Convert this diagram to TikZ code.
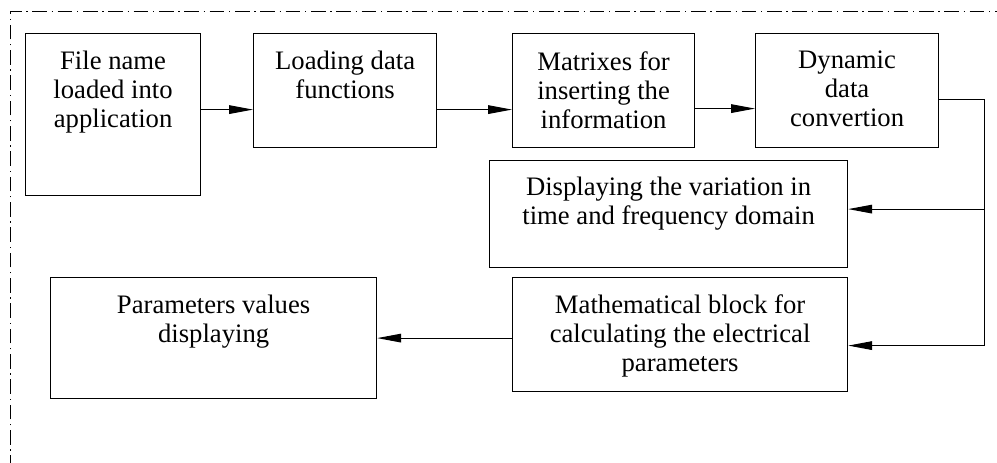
\documentclass[tikz,border=0pt]{standalone}
\usepackage{fontspec}
\setmainfont{Liberation Serif}
\usepackage{tikz}
\usetikzlibrary{arrows.meta,positioning}

\tikzset{
  blk/.style={draw, line width=0.9pt, anchor=north west, inner sep=0pt},
  txt/.style={align=center, inner sep=0pt, font=\fontsize{20}{21.75}\selectfont},
  arr/.style={-{Triangle[length=18pt,width=6.5pt]}, line width=0.75pt},
  link/.style={line width=0.75pt},
  frame/.style={line width=0.6pt, dash pattern=on 11pt off 3.5pt on 1pt off 3.5pt}
}

\begin{document}
\begin{tikzpicture}[x=0.75pt,y=-0.75pt]
		\useasboundingbox (0,0) rectangle (997,463);
		\draw [frame] (10,470) |- (1000,11);
		% boxes
		\node [blk, minimum width=131.25pt, minimum height=121.5pt] (file) at (25,33) {};
		\node [blk, minimum width=137.25pt, minimum height=85.5pt] (loadfn) at (253,33) {};
		\node [blk, minimum width=136.5pt, minimum height=85.5pt] (matrix) at (512,33) {};
		\node [blk, minimum width=137.25pt, minimum height=85.5pt] (conv) at (755,33) {};
		\node [blk, minimum width=268.5pt, minimum height=80.25pt] (variation) at (489,160) {};
		\node [blk, minimum width=251.25pt, minimum height=85.5pt] (math) at (512,277) {};
		\node [blk, minimum width=244.5pt, minimum height=90.75pt] (params) at (50,277) {};
		% texts
		\node [txt, below=13.5pt of file.north] (filetxt) {File name\\loaded into\\application};
		\node [txt, below=13.5pt of loadfn.north] (loadfntxt) {Loading data\\functions};
		\node [txt, below=13.5pt of matrix.north] (matrixtxt) {Matrixes for\\inserting the\\information};
		\node [txt, below=13.5pt of conv.north] (convtxt) {Dynamic\\data\\convertion};
		\node [txt, below=12.5pt of variation.north] (variationtxt) {Displaying the variation in\\time and frequency domain};
		\node [txt, below=13pt of math.north] (mathtxt) {Mathematical block for\\calculating the electrical\\parameters};
		\node [txt, below=13pt of params.north] (paramstxt) {Parameters values\\displaying};
		% connectors
		\coordinate (a1) at ([yshift=3.75pt]file.east);
		\draw [arr] (a1) -- (a1 -| loadfn.west);
		\coordinate (a2) at ([yshift=-14.25pt]loadfn.east);
		\draw [arr] (a2) -- (a2 -| matrix.west);
		\coordinate (a3) at ([yshift=-13.5pt]matrix.east);
		\draw [arr] (a3) -- (a3 -| conv.west);
		\coordinate (c1) at ([yshift=-6.75pt]conv.east);
		\coordinate (turn) at ([xshift=33.75pt]c1);
		\coordinate (b1) at ([yshift=3.75pt]variation.east);
		\coordinate (b2) at ([yshift=-8.25pt]math.east);
		\draw [link] (c1) -- (turn) -- (turn |- b2);
		\draw [arr] (turn |- b1) -- (b1);
		\draw [arr] (turn |- b2) -- (b2);
		\draw [arr] (math.west |- params.east) -- (params.east);
\end{tikzpicture}
\end{document}
